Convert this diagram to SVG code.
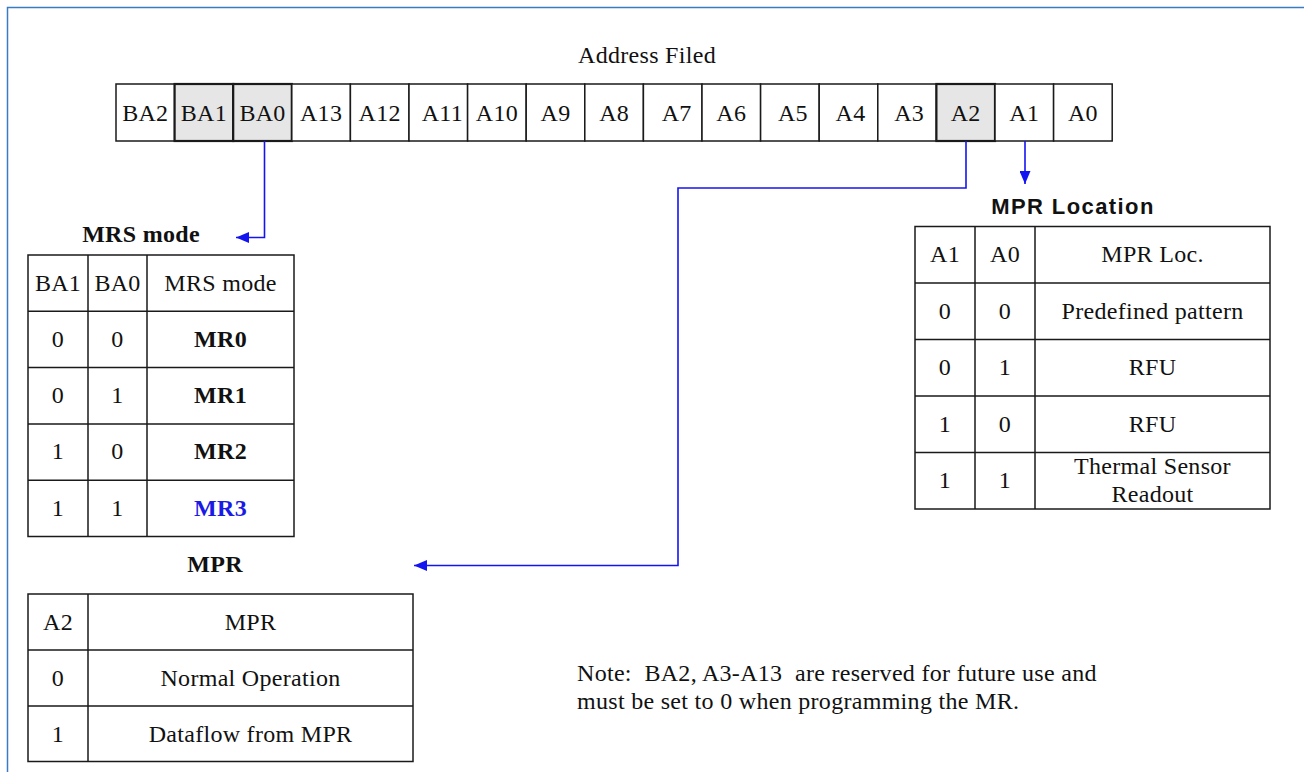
<svg xmlns="http://www.w3.org/2000/svg" width="1304" height="772" viewBox="0 0 1304 772">
<style>
.t{font-family:"Liberation Serif","Times New Roman",serif;font-size:24px;letter-spacing:0.3px;fill:#111;text-anchor:middle}
.b{font-weight:bold}
.s{font-family:"Liberation Sans",Arial,sans-serif;font-size:22px;font-weight:bold;letter-spacing:1.4px;fill:#111;text-anchor:middle}
.l{text-anchor:start;white-space:pre}
.cell{fill:#fff;stroke:#1a1a1a;stroke-width:1.5}
.hl{fill:#e6e6e6;stroke:#1a1a1a;stroke-width:2.2}
.grid{stroke:#1a1a1a;stroke-width:1.5;fill:none}
.conn{stroke:#1414f0;stroke-width:1.6;fill:none;marker-end:url(#ah)}
</style>
<defs>
<marker id="ah" markerUnits="userSpaceOnUse" markerWidth="13" markerHeight="11" viewBox="0 0 13 11" refX="13" refY="5.5" orient="auto">
<path d="M0,0 L13,5.5 L0,11 Z" fill="#1414f0"/>
</marker>
</defs>
<rect width="1304" height="772" fill="#fff"/>
<path d="M7.5,772 V7.5 H1304" fill="none" stroke="#3a7cc4" stroke-width="1.5"/>

<g id="address-field">
<text class="t" x="647" y="63">Address Filed</text>
<rect class="cell" x="116" y="84" width="58.6" height="57"/>
<rect class="hl" x="174.6" y="84" width="58.6" height="57"/>
<rect class="hl" x="233.2" y="84" width="58.6" height="57"/>
<rect class="cell" x="291.8" y="84" width="58.6" height="57"/>
<rect class="cell" x="350.4" y="84" width="58.6" height="57"/>
<rect class="cell" x="409" y="84" width="58.6" height="57"/>
<rect class="cell" x="467.6" y="84" width="58.6" height="57"/>
<rect class="cell" x="526.2" y="84" width="58.6" height="57"/>
<rect class="cell" x="584.8" y="84" width="58.6" height="57"/>
<rect class="cell" x="643.4" y="84" width="58.6" height="57"/>
<rect class="cell" x="702" y="84" width="58.6" height="57"/>
<rect class="cell" x="760.6" y="84" width="58.6" height="57"/>
<rect class="cell" x="819.2" y="84" width="58.6" height="57"/>
<rect class="cell" x="877.8" y="84" width="58.6" height="57"/>
<rect class="hl" x="936.4" y="84" width="58.6" height="57"/>
<rect class="cell" x="995" y="84" width="58.6" height="57"/>
<rect class="cell" x="1053.6" y="84" width="58.6" height="57"/>
<text class="t" y="120.5"><tspan x="145.3">BA2</tspan><tspan x="203.9">BA1</tspan><tspan x="262.5">BA0</tspan><tspan x="321.1">A13</tspan><tspan x="379.7">A12</tspan><tspan x="442.3">A11</tspan><tspan x="496.9">A10</tspan><tspan x="555.5">A9</tspan><tspan x="614.1">A8</tspan><tspan x="676.7">A7</tspan><tspan x="731.3">A6</tspan><tspan x="792.9">A5</tspan><tspan x="850.5">A4</tspan><tspan x="909.1">A3</tspan><tspan x="965.7">A2</tspan><tspan x="1024.3">A1</tspan><tspan x="1082.9">A0</tspan></text>
</g>

<g id="connectors">
<path class="conn" d="M264.5,141 V237.5 H236"/>
<path class="conn" d="M966,141 V188 H678 V565.5 H414"/>
<path class="conn" d="M1025,141 V184"/>
</g>

<g id="mrs-mode">
<text class="t b" x="141" y="242">MRS mode</text>
<rect class="grid" x="28" y="255" width="266" height="281.5"/>
<path class="grid" d="M88,255 V536.5 M147,255 V536.5 M28,311.3 H294 M28,367.6 H294 M28,423.9 H294 M28,480.2 H294"/>
<text class="t" y="290.5"><tspan x="58">BA1</tspan><tspan x="117.5">BA0</tspan><tspan x="220.5">MRS mode</tspan></text>
<text class="t" y="346.8"><tspan x="58">0</tspan><tspan x="117.5">0</tspan><tspan x="220.5" class="b">MR0</tspan></text>
<text class="t" y="403.1"><tspan x="58">0</tspan><tspan x="117.5">1</tspan><tspan x="220.5" class="b">MR1</tspan></text>
<text class="t" y="459.4"><tspan x="58">1</tspan><tspan x="117.5">0</tspan><tspan x="220.5" class="b">MR2</tspan></text>
<text class="t" y="515.7"><tspan x="58">1</tspan><tspan x="117.5">1</tspan><tspan x="220.5" class="b" fill="#1a1ae6">MR3</tspan></text>
</g>

<g id="mpr">
<text class="t b" x="215" y="572">MPR</text>
<rect class="grid" x="28" y="594" width="385" height="167.5"/>
<path class="grid" d="M88,594 V761.5 M28,650 H413 M28,706 H413"/>
<text class="t" y="629.5"><tspan x="58">A2</tspan><tspan x="250.5">MPR</tspan></text>
<text class="t" y="685.5"><tspan x="58">0</tspan><tspan x="250.5">Normal Operation</tspan></text>
<text class="t" y="741.5"><tspan x="58">1</tspan><tspan x="250.5">Dataflow from MPR</tspan></text>
</g>

<g id="mpr-location">
<text class="s" x="1073" y="214">MPR Location</text>
<rect class="grid" x="915" y="226.5" width="355" height="282.5"/>
<path class="grid" d="M975,226.5 V509 M1035,226.5 V509 M915,283 H1270 M915,339.5 H1270 M915,396 H1270 M915,452.5 H1270"/>
<text class="t" y="262"><tspan x="945">A1</tspan><tspan x="1005">A0</tspan><tspan x="1152.5">MPR Loc.</tspan></text>
<text class="t" y="318.5"><tspan x="945">0</tspan><tspan x="1005">0</tspan><tspan x="1152.5">Predefined pattern</tspan></text>
<text class="t" y="375"><tspan x="945">0</tspan><tspan x="1005">1</tspan><tspan x="1152.5">RFU</tspan></text>
<text class="t" y="431.5"><tspan x="945">1</tspan><tspan x="1005">0</tspan><tspan x="1152.5">RFU</tspan></text>
<text class="t" y="488"><tspan x="945">1</tspan><tspan x="1005">1</tspan></text>
<text class="t" y="474"><tspan x="1152.5">Thermal Sensor</tspan><tspan x="1152.5" dy="28">Readout</tspan></text>
</g>

<g id="note">
<text class="t l" x="577" y="681" xml:space="preserve">Note:  BA2, A3-A13  are reserved for future use and</text>
<text class="t l" x="577" y="709">must be set to 0 when programming the MR.</text>
</g>
</svg>
